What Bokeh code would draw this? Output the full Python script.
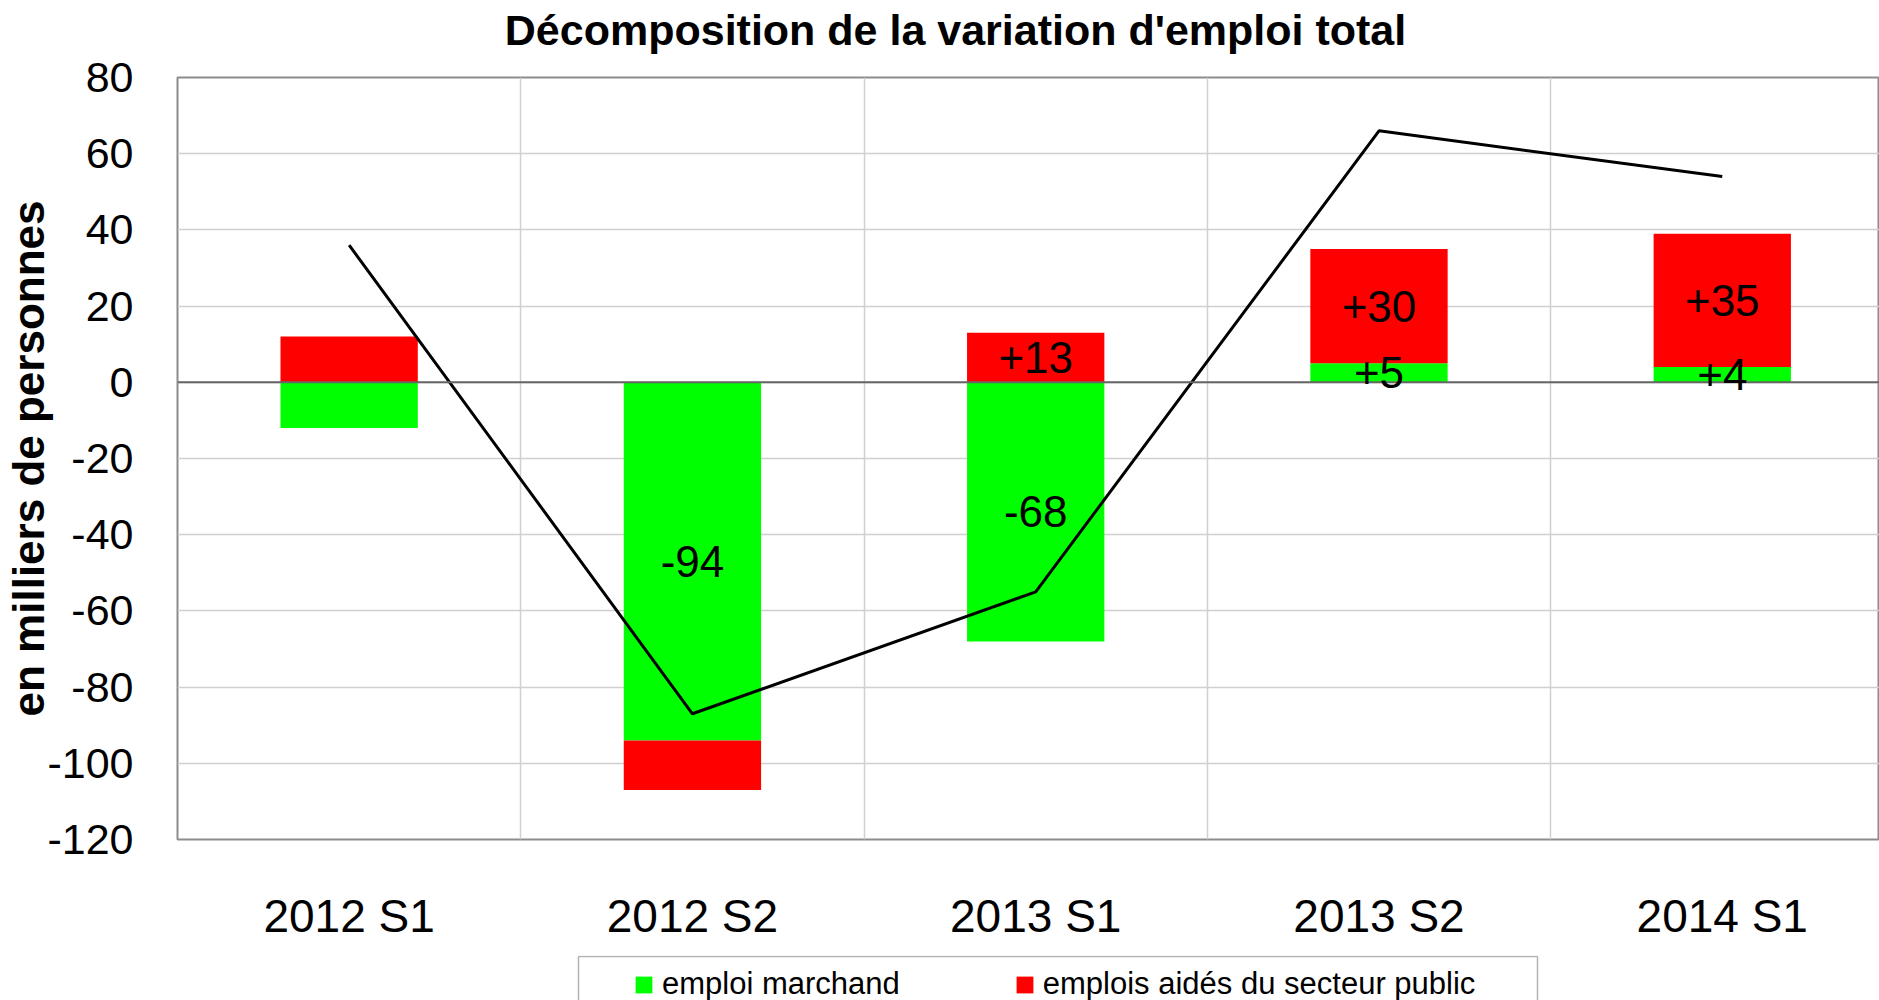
import numpy as np
from bokeh.plotting import figure
from bokeh.layouts import column
from bokeh.models import (Range1d, FixedTicker, Span, ColumnDataSource, LabelSet, Label,
                          Legend, LegendItem, BoxAnnotation)
from bokeh.core.properties import value
from bokeh.embed import file_html
from bokeh.resources import INLINE

# ---- data ----
title_text = "Décomposition de la variation d'emploi total"
y_axis_title = "en milliers de personnes"
categories = ["2012 S1", "2012 S2", "2013 S1", "2013 S2", "2014 S1"]
emploi_marchand = [-12, -94, -68, 5, 4]
emplois_aides = [12, -13, 13, 30, 35]
emploi_total = [36, -87, -55, 66, 54]
y_ticks = [-120, -100, -80, -60, -40, -20, 0, 20, 40, 60, 80]
show_label_marchand = [False, True, True, True, True]
show_label_aides = [False, False, True, True, True]
series_names = ["emploi marchand", "emplois aidés du secteur public"]
series_colors = ["#00ff00", "#ff0000"]

FONT = "Liberation Sans"
W = 1879
FRAME_LEFT = 177
TITLE_H = 54
LEGEND_H = 45

x = np.arange(len(categories)) + 0.5
g = np.array(emploi_marchand, dtype=float)
r = np.array(emplois_aides, dtype=float)
red_bottom = np.where(np.sign(r) == np.sign(g), g, 0.0)
red_top = red_bottom + r

src_g = ColumnDataSource(dict(x=x, bottom=np.zeros_like(g), top=g))
src_r = ColumnDataSource(dict(x=x, bottom=red_bottom, top=red_top))
src_line = ColumnDataSource(dict(x=x, y=emploi_total))

lx, ly, lt = [], [], []
for i in range(len(categories)):
    if show_label_marchand[i]:
        lx.append(x[i]); ly.append(g[i] / 2.0); lt.append(f"{emploi_marchand[i]:+d}")
    if show_label_aides[i]:
        lx.append(x[i]); ly.append((red_bottom[i] + red_top[i]) / 2.0); lt.append(f"{emplois_aides[i]:+d}")
src_lab = ColumnDataSource(dict(x=lx, y=ly, text=lt))

# ---- title strip (frame aligned with the chart frame) ----
t = figure(width=W, height=TITLE_H, output_backend="svg", toolbar_location=None,
           x_range=Range1d(0, W - FRAME_LEFT), y_range=Range1d(0, TITLE_H),
           min_border_left=0, min_border_right=0, min_border_top=0, min_border_bottom=0,
           x_axis_location=None, y_axis_location=None)
t.outline_line_color = None
t.grid.visible = False
t.add_layout(Label(x=955 - FRAME_LEFT, y=TITLE_H - 29.5, text=title_text,
                   text_align="center", text_baseline="middle",
                   text_font=FONT, text_font_size="43px", text_font_style="bold",
                   text_color="black"))

# ---- main chart ----
p = figure(width=W, height=1000 - TITLE_H - LEGEND_H, output_backend="svg", toolbar_location=None,
           x_range=Range1d(0, 4.958), y_range=Range1d(-120, 80),
           min_border_left=FRAME_LEFT, min_border_right=0,
           min_border_top=77 - TITLE_H, min_border_bottom=116)

p.outline_line_color = "#8c8c8c"
p.outline_line_width = 2

# axes
p.xaxis.ticker = FixedTicker(ticks=list(x))
p.xaxis.major_label_overrides = {float(xi): c for xi, c in zip(x, categories)}
p.xaxis.major_label_text_font = FONT
p.xaxis.major_label_text_font_size = "46px"
p.xaxis.major_label_text_color = "black"
p.xaxis.major_label_standoff = 44
p.xaxis.axis_line_color = None
p.xaxis.major_tick_line_color = None
p.xaxis.minor_tick_line_color = None

p.yaxis.ticker = FixedTicker(ticks=y_ticks)
p.yaxis.major_label_overrides = {t_: str(t_) for t_ in y_ticks}
p.yaxis.major_label_text_font = FONT
p.yaxis.major_label_text_font_size = "43px"
p.yaxis.major_label_text_color = "black"
p.yaxis.major_label_standoff = 38
p.yaxis.axis_line_color = None
p.yaxis.major_tick_line_color = None
p.yaxis.minor_tick_line_color = None
p.yaxis.axis_label = y_axis_title
p.yaxis.axis_label_text_font = FONT
p.yaxis.axis_label_text_font_size = "44px"
p.yaxis.axis_label_text_font_style = "bold"
p.yaxis.axis_label_text_color = "black"
p.yaxis.axis_label_standoff = -9

# grids
p.xgrid.ticker = FixedTicker(ticks=[1, 2, 3, 4])
p.xgrid.grid_line_color = "#d0d0d0"
p.xgrid.grid_line_width = 1.5
p.ygrid.ticker = FixedTicker(ticks=y_ticks)
p.ygrid.grid_line_color = "#d0d0d0"
p.ygrid.grid_line_width = 1.5

# bars
rg = p.vbar(x="x", bottom="bottom", top="top", width=0.4, source=src_g,
            fill_color=series_colors[0], line_color=None)
rr = p.vbar(x="x", bottom="bottom", top="top", width=0.4, source=src_r,
            fill_color=series_colors[1], line_color=None)

p.add_layout(Span(location=0, dimension="width", line_color="#666666", line_width=2))

p.line(x="x", y="y", source=src_line, line_color="black", line_width=3)

labels = LabelSet(x="x", y="y", text="text", source=src_lab, text_align="center",
                  text_baseline="middle", text_font_size="44px", text_color="black",
                  text_font=value(FONT))
p.add_layout(labels)

# ---- legend strip below the chart (frame aligned with the chart frame) ----
q = figure(width=W, height=LEGEND_H, output_backend="svg", toolbar_location=None,
           x_range=Range1d(0, W - FRAME_LEFT), y_range=Range1d(1000, 1000 + LEGEND_H),
           min_border_left=0, min_border_right=0, min_border_top=0, min_border_bottom=0,
           x_axis_location=None, y_axis_location=None)
q.outline_line_color = None
q.grid.visible = False

q.add_layout(BoxAnnotation(left=578 - FRAME_LEFT, right=1537 - FRAME_LEFT,
                           top=1000 + LEGEND_H - 1, bottom=960,
                           fill_alpha=0, line_color="black", line_width=1.5))

# same bar data; they lie outside this strip's view, only their legend swatches show
lg = q.vbar(x="x", bottom="bottom", top="top", width=0.4, source=src_g,
            fill_color=series_colors[0], line_color=None)
lr = q.vbar(x="x", bottom="bottom", top="top", width=0.4, source=src_r,
            fill_color=series_colors[1], line_color=None)

legend = Legend(items=[LegendItem(label=series_names[0], renderers=[lg]),
                       LegendItem(label=series_names[1], renderers=[lr])],
                orientation="horizontal", location=(635 - FRAME_LEFT - 2, -2),
                border_line_color=None, background_fill_alpha=0,
                label_text_font=FONT, label_text_font_size="31px", label_text_color="black",
                glyph_width=21, glyph_height=21, label_standoff=8,
                padding=2, spacing=114, margin=0)
q.add_layout(legend, "center")

open("out.html", "w").write(file_html(column(t, p, q, spacing=0), INLINE))
